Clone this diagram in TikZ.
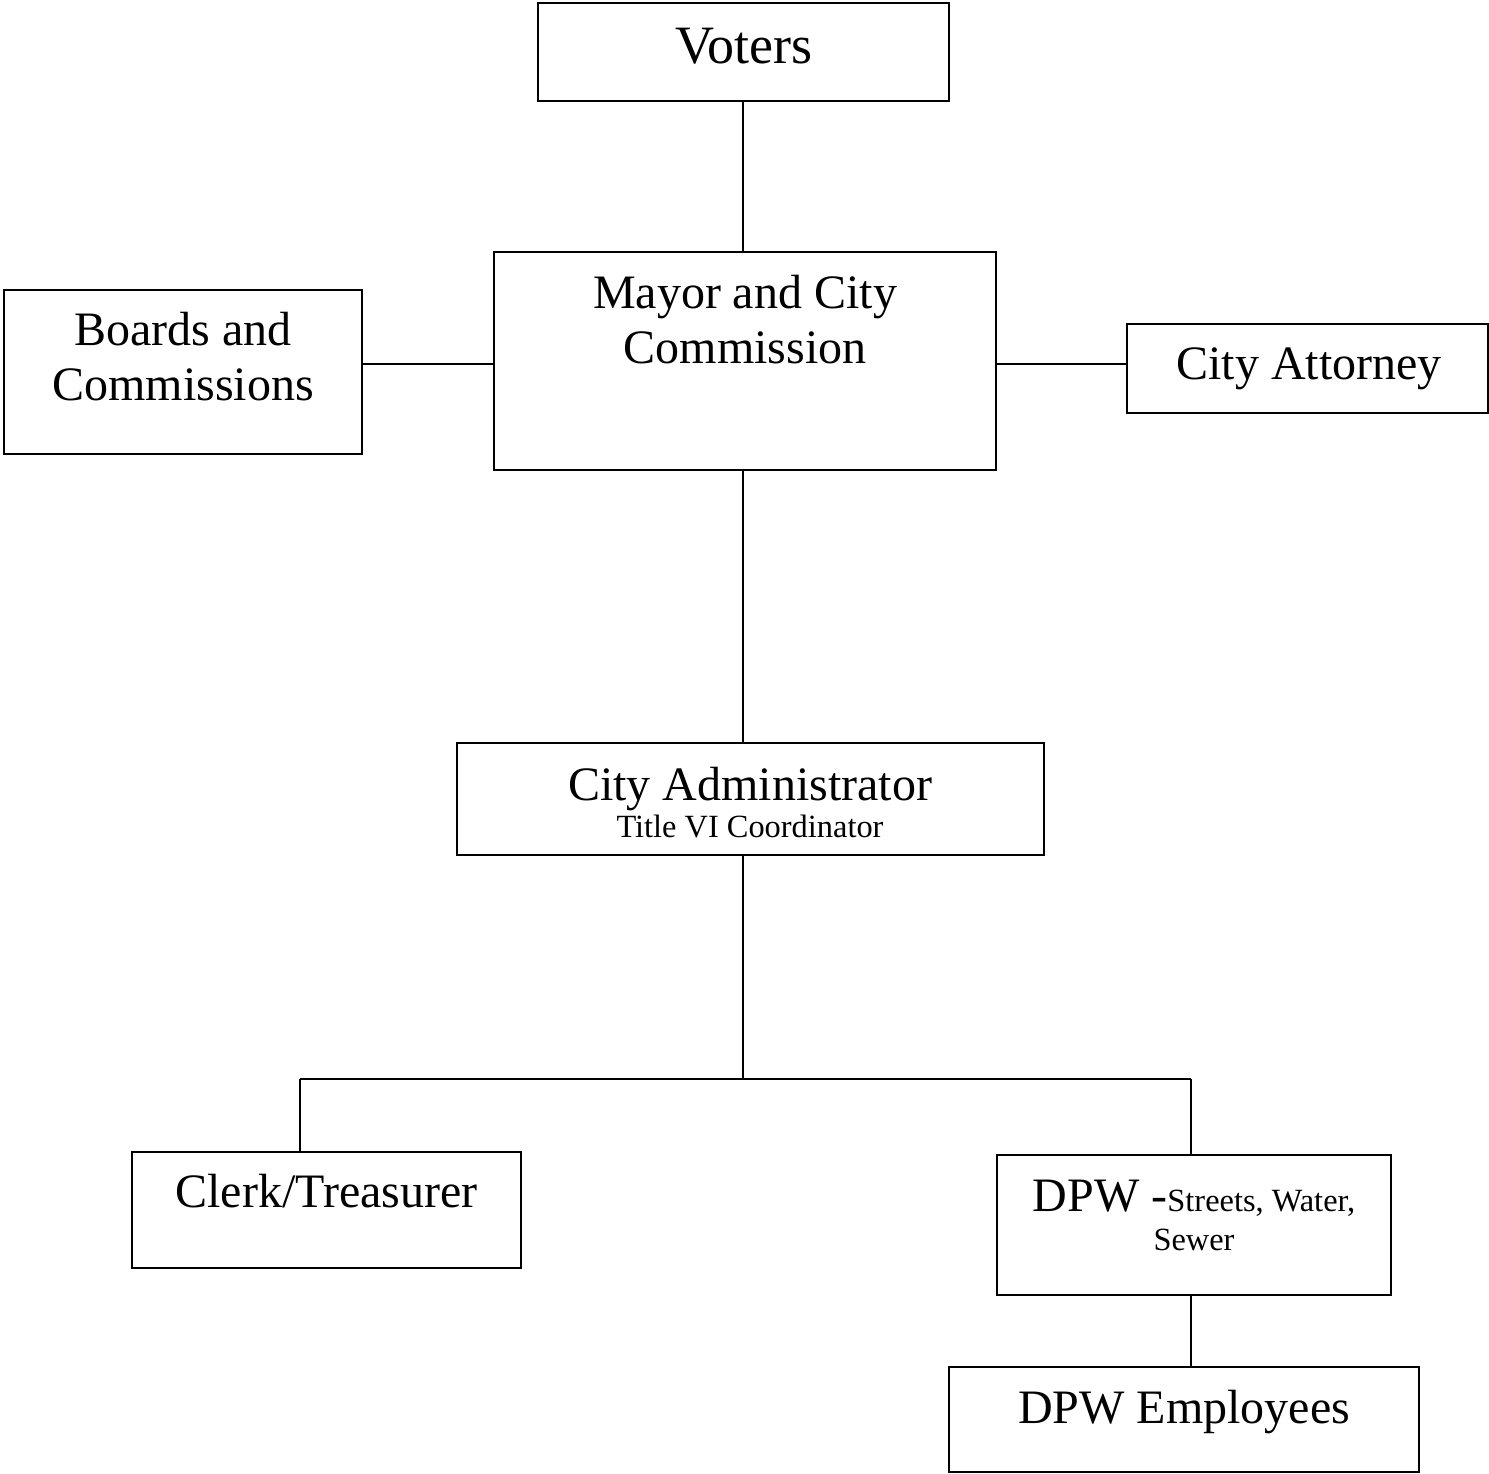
\documentclass[tikz,border=0pt]{standalone}
\usepackage{fontspec}
\setmainfont{Liberation Serif}
\newcommand{\hugesz}{\fontsize{27}{27.5}\selectfont}
\newcommand{\bigsz}{\fontsize{24}{27.5}\selectfont}
\newcommand{\smallsz}{\fontsize{16.2}{18}\selectfont}
\begin{document}
\begin{tikzpicture}[x=0.5pt,y=-0.5pt,
  box/.style={draw, line width=1pt, inner sep=0pt, outer sep=0pt},
  txt/.style={inner sep=0pt, anchor=base, font=\bigsz},
  stxt/.style={inner sep=0pt, anchor=base, font=\smallsz},
  conn/.style={line width=1pt}]
\useasboundingbox (0,0) rectangle (1489,1473);
% boxes
\node[box, minimum width=205.5pt, minimum height=49pt] (voters) at (743.5,52) {};
\node[box, minimum width=251pt, minimum height=109pt] (mayor) at (745,361) {};
\node[box, minimum width=179pt, minimum height=82pt] (boards) at (183,372) {};
\node[box, minimum width=180.5pt, minimum height=44.5pt] (attorney) at (1307.5,368.5) {};
\node[box, minimum width=293.5pt, minimum height=56pt] (admin) at (750.5,799) {};
\node[box, minimum width=194.5pt, minimum height=58pt] (clerk) at (326.5,1210) {};
\node[box, minimum width=197pt, minimum height=70pt] (dpw) at (1194,1225) {};
\node[box, minimum width=235pt, minimum height=52.5pt] (emp) at (1184,1419.5) {};
% texts
\node[txt, font=\hugesz] (tvoters) at (743.5,63) {Voters};
\node[txt] (tmayor1) at (745,308) {Mayor and City};
\node[txt] (tmayor2) at (745,363) {Commission};
\node[txt] (tboards1) at (183,345) {Boards and};
\node[txt] (tboards2) at (183,400) {Commissions};
\node[txt] (tatt) at (1309,379) {City Attorney};
\node[txt] (tadmin1) at (750,800) {City Administrator};
\node[stxt] (tadmin2) at (750,837) {Title VI Coordinator};
\node[txt] (tclerk) at (326.5,1207) {Clerk/Treasurer};
\node[txt] (tdpw1) at (1194,1211) {DPW -{\smallsz Streets, Water,}};
\node[stxt] (tdpw2) at (1194,1250) {Sewer};
\node[txt] (temp) at (1184,1423) {DPW Employees};
% junctions
\coordinate (hub) at (743,1079);
\coordinate (lj) at (300,1079);
\coordinate (rj) at (1191,1079);
% connectors
\draw[conn] (voters.south -| hub) -- (mayor.north -| hub);
\draw[conn] ([yshift=-1.5pt]mayor.west) -- ([yshift=-1.5pt]mayor.west -| boards.east);
\draw[conn] ([yshift=-1.5pt]mayor.east) -- ([yshift=-1.5pt]mayor.east -| attorney.west);
\draw[conn] (mayor.south -| hub) -- (admin.north -| hub);
\draw[conn] (admin.south -| hub) -- (hub);
\draw[conn] (lj) -- (rj);
\draw[conn] (lj) -- (lj |- clerk.north);
\draw[conn] (rj) -- (rj |- dpw.north);
\draw[conn] (dpw.south -| rj) -- (emp.north -| rj);
\end{tikzpicture}
\end{document}
